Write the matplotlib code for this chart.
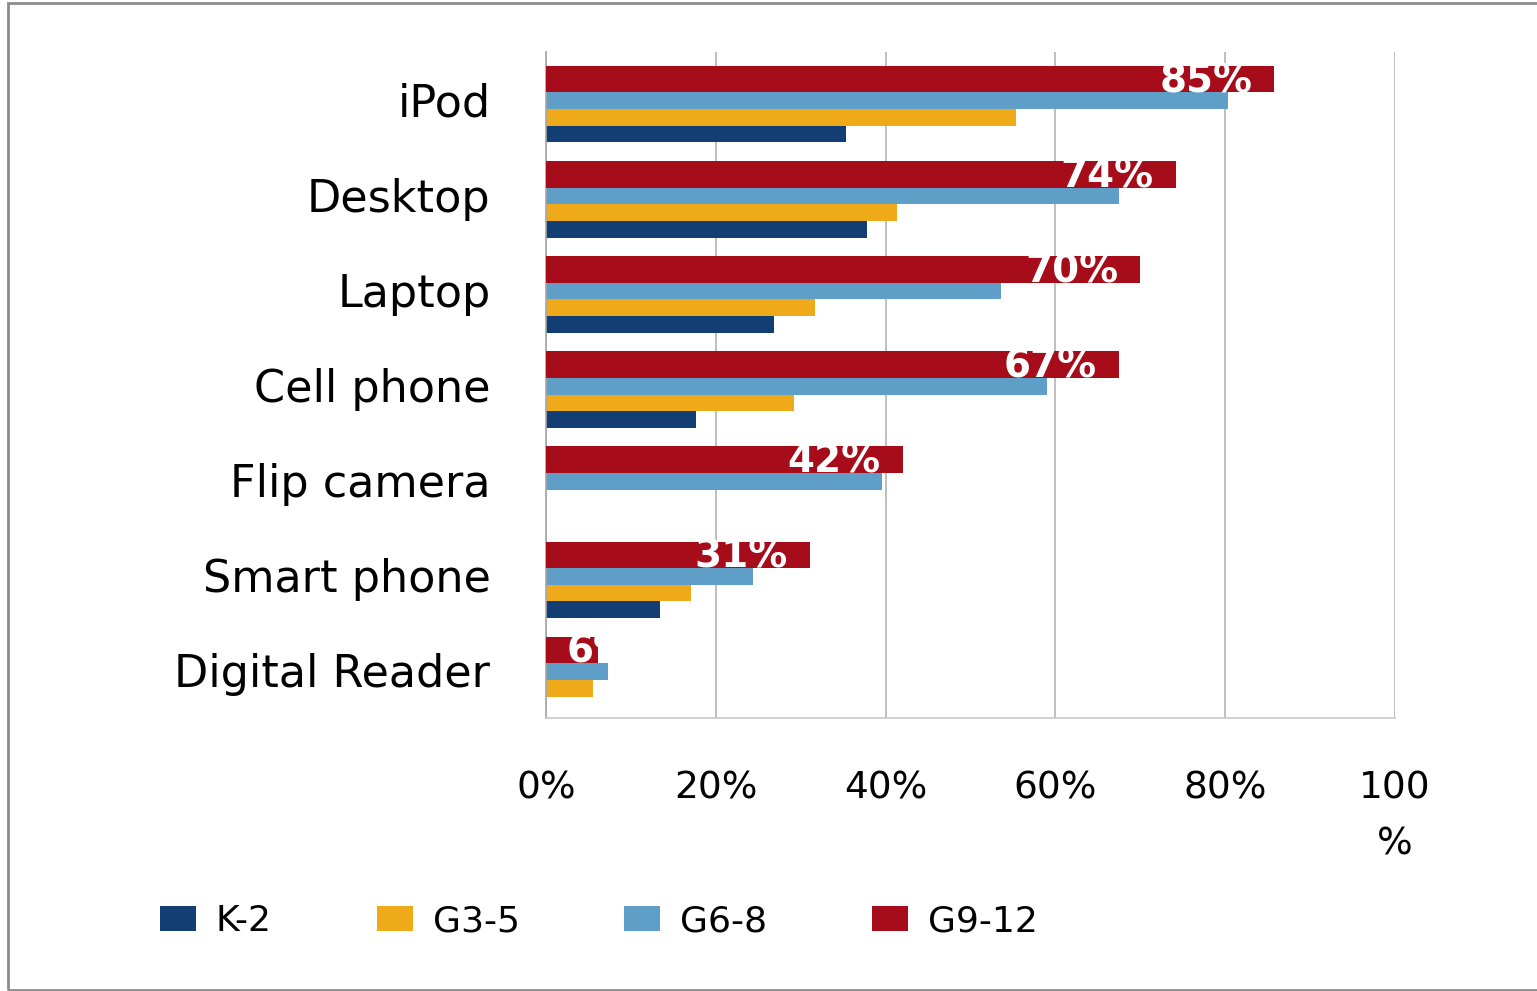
import matplotlib.pyplot as plt
from matplotlib.patches import Rectangle

# device ownership share by grade band (percent)
categories = ["iPod", "Desktop", "Laptop", "Cell phone", "Flip camera", "Smart phone", "Digital Reader"]
k2 = [35.3, 37.8, 26.9, 17.7, 0, 13.4, 0]
g3_5 = [55.4, 41.3, 31.7, 29.2, 0, 17.1, 5.5]
g6_8 = [80.3, 67.5, 53.6, 59.0, 39.6, 24.4, 7.3]
g9_12 = [85.8, 74.2, 70.0, 67.5, 42.0, 31.1, 6.1]
g9_12_labels = ["85%", "74%", "70%", "67%", "42%", "31%", "6%"]
xtick_vals = [0, 20, 40, 60, 80, 100]
xtick_labels = ["0%", "20%", "40%", "60%", "80%", "100\n%"]

c_navy = "#133E74"
c_orange = "#EEAA19"
c_blue = "#5F9EC6"
c_red = "#A60C19"

plt.rcParams["font.family"] = ["DejaVu Sans"]

fig = plt.figure(figsize=(15.37, 9.91), dpi=100)
ax = fig.add_axes([546/1537, 1-718/991, (1395-546)/1537, (718-52)/991])

y = list(range(len(categories)))
h_red = 0.28
h_small = 0.175
top = -0.355
red_c = [v + top + h_red/2 for v in y]
blue_c = [v + top + h_red + h_small/2 for v in y]
orange_c = [v + top + h_red + 1.5*h_small for v in y]
navy_c = [v + top + h_red + 2.5*h_small for v in y]

ax.barh(navy_c, k2, height=h_small, color=c_navy, label="K-2", zorder=2)
ax.barh(orange_c, g3_5, height=h_small, color=c_orange, label="G3-5", zorder=2)
ax.barh(blue_c, g6_8, height=h_small, color=c_blue, label="G6-8", zorder=2)
ax.barh(red_c, g9_12, height=h_red, color=c_red, label="G9-12", zorder=3)

for yc, v, lab in zip(red_c, g9_12, g9_12_labels):
    if v > 15:
        ax.text(v - 2.6, yc + 0.02, lab, ha="right", va="center", color="white",
                fontsize=28, fontweight="bold", zorder=4)
    else:
        ax.text(2.4, yc + 0.02, lab, ha="left", va="center", color="white",
                fontsize=28, fontweight="bold", zorder=4)

ax.set_xlim(0, 100)
ax.set_ylim(6.5, -0.5)
ax.set_yticks(y)
ax.set_yticklabels(categories, fontsize=32)
ax.set_xticks(xtick_vals)
ax.set_xticklabels(xtick_labels, fontsize=27)
for lab in ax.get_xticklabels():
    lab.set_linespacing(1.7)
ax.tick_params(axis="y", length=0, pad=40)
ax.tick_params(axis="x", length=0, pad=38)
ax.grid(axis="x", color="#b3b3b3", linewidth=1.2, zorder=0)
for s in ["top", "right"]:
    ax.spines[s].set_visible(False)
ax.spines["left"].set_color("#a6a6a6")
ax.spines["bottom"].set_color("#c8c8c8")
ax.spines["left"].set_linewidth(1.2)
ax.spines["bottom"].set_linewidth(1.2)

handles, labels = ax.get_legend_handles_labels()
fig.legend(handles, labels, loc="center left", bbox_to_anchor=(160/1537, 1-921/991),
           ncol=4, frameon=False, fontsize=26, handlelength=1.0, handleheight=0.67,
           handletextpad=0.55, columnspacing=2.9, borderpad=0, borderaxespad=0)

# outer border (top, left, bottom)
fig.patches.append(Rectangle((7.5/1537, 1-990/991), 1.1, 987/991, transform=fig.transFigure,
                             fill=False, edgecolor="#8c8c8c", linewidth=2, clip_on=False))

fig.savefig("out.png", dpi=100)
plt.close()
